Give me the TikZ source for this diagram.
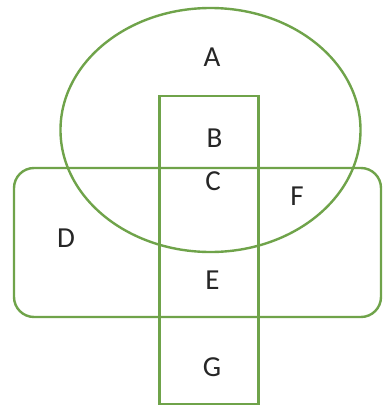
\documentclass[tikz,border=0pt]{standalone}
\usepackage{fontspec}
\setmainfont{Carlito}
\usetikzlibrary{shapes.geometric, positioning}
\definecolor{setgreen}{HTML}{6FA34A}

\begin{document}
\begin{tikzpicture}[x=1pt, y=-1pt,
    setline/.style={draw=setgreen, line width=2.4pt, inner sep=0pt, outer sep=0pt},
    region/.style={font=\fontsize{29}{29}\selectfont, text=black!85}]
  \useasboundingbox (0,0) rectangle (386,408);
  % Sets
  \node[setline, ellipse, minimum width=300pt, minimum height=244pt]
        (ellA) at (210.5,130) {};
  \node[setline, rounded corners=20pt, minimum width=367pt, minimum height=149pt]
        (boxD) at (197.5,242.5) {};
  \node[setline, minimum width=99pt, minimum height=308pt]
        (barB) at (209,250) {};
  % Region labels
  \node[region] (labA) at (212,57.5) {A};
  \node[region] (labB) at (214.5,138.5) {B};
  \node[region] (labC) at (213,181.5) {C};
  \node[region] (labF) at (297,196) {F};
  \node[region] (labD) at (66,238.5) {D};
  \node[region] (labE) at (212.5,280.5) {E};
  \node[region] (labG) at (212,367.5) {G};
\end{tikzpicture}
\end{document}
